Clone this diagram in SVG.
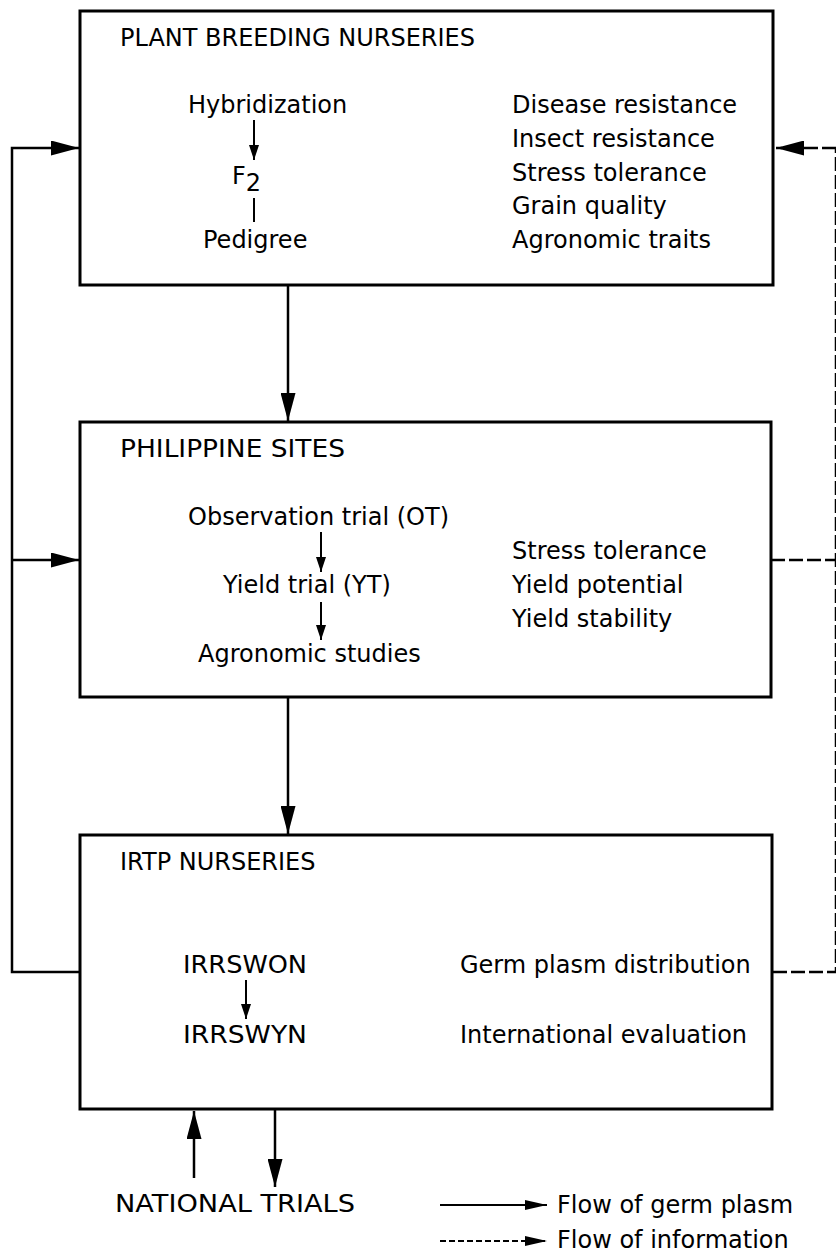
<svg xmlns="http://www.w3.org/2000/svg" width="836" height="1253" viewBox="0 0 836 1253">
<style>
.box{fill:none;stroke:#000;stroke-width:3}
.t{font-family:"DejaVu Sans","Liberation Sans",sans-serif;font-size:24px;fill:#000}
.ln{fill:none;stroke:#000;stroke-width:2.5}
.thin{fill:none;stroke:#000;stroke-width:2}
.dash{stroke-dasharray:14 4}
.fdash{stroke-dasharray:6 3}
</style>
<defs>
<marker id="big" markerUnits="userSpaceOnUse" markerWidth="28" markerHeight="15" refX="28" refY="7.5" orient="auto"><path d="M0,0 L28,7.5 L0,15 z" fill="#000"/></marker>
<marker id="small" markerUnits="userSpaceOnUse" markerWidth="15" markerHeight="10" refX="15" refY="5" orient="auto"><path d="M0,0 L15,5 L0,10 z" fill="#000"/></marker>
<marker id="leg" markerUnits="userSpaceOnUse" markerWidth="22" markerHeight="10" refX="22" refY="5" orient="auto"><path d="M0,0 L22,5 L0,10 z" fill="#000"/></marker>
</defs>
<rect width="836" height="1253" fill="#fff"/>

<g id="plant-breeding-nurseries">
<rect class="box" x="80" y="11" width="693" height="274"/>
<text class="t" x="120" y="46">PLANT BREEDING NURSERIES</text>
<text class="t" x="188" y="113">Hybridization</text>
<text class="t" x="232" y="184">F<tspan dy="7">2</tspan></text>
<text class="t" x="203" y="248">Pedigree</text>
<line class="thin" x1="254" y1="120" x2="254" y2="160" marker-end="url(#small)"/>
<line class="thin" x1="254" y1="198" x2="254" y2="222"/>
<text class="t" x="512" y="113">Disease resistance</text>
<text class="t" x="512" y="147">Insect resistance</text>
<text class="t" x="512" y="181">Stress tolerance</text>
<text class="t" x="512" y="214">Grain quality</text>
<text class="t" x="512" y="248">Agronomic traits</text>
</g>

<g id="philippine-sites">
<rect class="box" x="80" y="422" width="691" height="275"/>
<text class="t" x="120" y="457" textLength="225" lengthAdjust="spacingAndGlyphs">PHILIPPINE SITES</text>
<text class="t" x="188" y="525">Observation trial (OT)</text>
<line class="thin" x1="321" y1="532" x2="321" y2="572" marker-end="url(#small)"/>
<text class="t" x="223" y="593">Yield trial (YT)</text>
<line class="thin" x1="321" y1="602" x2="321" y2="640" marker-end="url(#small)"/>
<text class="t" x="198" y="662">Agronomic studies</text>
<text class="t" x="512" y="559">Stress tolerance</text>
<text class="t" x="512" y="593">Yield potential</text>
<text class="t" x="512" y="627">Yield stability</text>
</g>

<g id="irtp-nurseries">
<rect class="box" x="80" y="835" width="692" height="274"/>
<text class="t" x="120" y="870">IRTP NURSERIES</text>
<text class="t" x="183" y="973" textLength="124" lengthAdjust="spacingAndGlyphs">IRRSWON</text>
<line class="thin" x1="246" y1="980" x2="246" y2="1019" marker-end="url(#small)"/>
<text class="t" x="183" y="1043" textLength="124" lengthAdjust="spacingAndGlyphs">IRRSWYN</text>
<text class="t" x="460" y="973">Germ plasm distribution</text>
<text class="t" x="460" y="1043">International evaluation</text>
</g>

<g id="national-trials">
<text class="t" x="115" y="1212" textLength="240" lengthAdjust="spacingAndGlyphs">NATIONAL TRIALS</text>
</g>

<g id="legend">
<line class="thin" x1="440" y1="1205" x2="547" y2="1205" marker-end="url(#leg)"/>
<text class="t" x="557" y="1213">Flow of germ plasm</text>
<line class="thin fdash" x1="440" y1="1241" x2="547" y2="1241" marker-end="url(#leg)"/>
<text class="t" x="557" y="1248">Flow of information</text>
</g>

<g id="connectors">
<line class="ln" x1="288" y1="286" x2="288" y2="421" marker-end="url(#big)"/>
<line class="ln" x1="288" y1="698" x2="288" y2="834" marker-end="url(#big)"/>
<path class="ln" d="M80,972 H12 V148 H79" marker-end="url(#big)"/>
<line class="ln" x1="12" y1="560" x2="79" y2="560" marker-end="url(#big)"/>
<line class="ln" x1="194" y1="1178" x2="194" y2="1111" marker-end="url(#big)"/>
<line class="ln" x1="275" y1="1110" x2="275" y2="1187" marker-end="url(#big)"/>
<path class="ln dash" d="M773,972 H836 V148"/>
<line class="ln dash" x1="771" y1="560" x2="836" y2="560"/>
<line class="ln dash" x1="836" y1="148" x2="776" y2="148" marker-end="url(#big)"/>
</g>
</svg>
